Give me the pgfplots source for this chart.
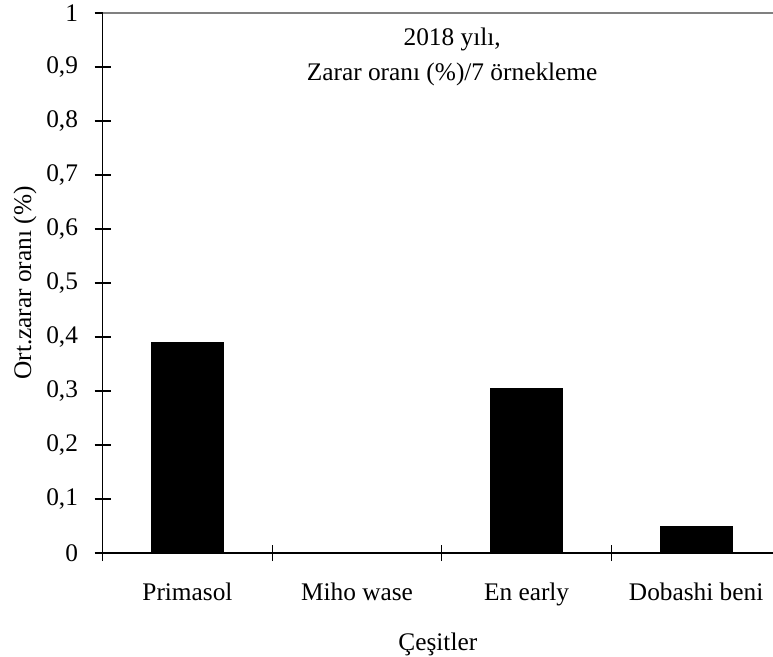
\documentclass[border=0pt]{standalone}
\usepackage{fontspec}
\setmainfont{Liberation Serif}
\usepackage{pgfplots}
\pgfplotsset{compat=1.18}

\begin{document}
\begin{tikzpicture}
\begin{axis}[
    name=ax,
    scale only axis,
    width=502.7pt, height=405pt,
    xmin=-0.5, xmax=3.453,
    ymin=0, ymax=1,
    axis x line*=bottom,
    axis y line*=left,
    axis line style={line width=0.9pt},
    tick style={black, line width=0.9pt},
    tick align=center,
    major tick length=12pt,
    xtick={-0.5,0.5,1.5,2.5},
    xticklabels={},
    extra x ticks={0,1,2,3},
    extra x tick labels={Primasol,Miho wase,En early,Dobashi beni},
    extra x tick style={major tick length=0pt, tick label style={yshift=-19pt}},
    ytick={0,0.1,0.2,0.3,0.4,0.5,0.6,0.7,0.8,0.9,1},
    /pgf/number format/fixed,
    /pgf/number format/precision=1,
    /pgf/number format/use comma,
    /pgf/number format/assume math mode=true,
    yticklabel style={xshift=-9pt},
    tick label style={font=\fontsize{19}{23}\selectfont},
    label style={font=\fontsize{19}{23}\selectfont},
    xlabel={Çeşitler},
    xlabel style={at={(axis description cs:0.5,0)}, anchor=north, yshift=-56pt},
    ylabel={Ort.zarar oranı (\%)},
    ylabel style={at={(axis description cs:-0.116,0.5)}, anchor=center},
    clip=false,
]
\addplot[ybar, bar width=0.425, fill=black, draw=black]
    coordinates {(0,0.39) (1,0) (2,0.305) (3,0.05)};

\draw[black!50, line width=1.2pt] (rel axis cs:0,1) -- (rel axis cs:1,1);

\node[align=center, font=\fontsize{19}{26.25}\selectfont]
    at (axis cs:1.561,0.918) {2018 yılı,\\Zarar oranı (\%)/7 örnekleme};
\end{axis}
\pgfresetboundingbox
\path[use as bounding box] ([xshift=-77pt, yshift=-77.25pt]ax.south west)
    rectangle ([yshift=9.75pt]ax.north east);
\end{tikzpicture}
\end{document}
